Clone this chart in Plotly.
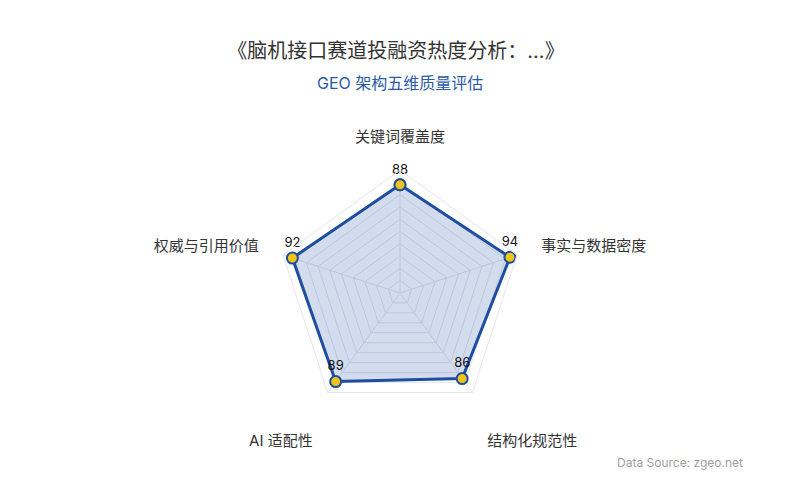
import plotly.graph_objects as go

# five GEO dimensions, clockwise from the top
categories = ["关键词覆盖度", "事实与数据密度", "结构化规范性", "AI 适配性", "权威与引用价值"]
scores = [88, 94, 86, 89, 92]
# bottom labels sit further from the polygon in the original, so give them a blank first line
tick_labels = ["关键词覆盖度", "事实与数据密度", "<br>结构化规范性", "<br>AI 适配性", "权威与引用价值"]

title_text = "《脑机接口赛道投融资热度分析：...》"
subtitle_text = "GEO 架构五维质量评估"
source_text = "Data Source: zgeo.net"

FONT = "Inter, Noto Sans CJK SC, sans-serif"

# close the polygon
r_vals = scores + scores[:1]
theta_vals = categories + categories[:1]
labels = [str(s) for s in scores] + [""]

fig = go.Figure()
fig.add_trace(go.Scatterpolar(
    r=r_vals,
    theta=theta_vals,
    mode="lines+markers+text",
    text=labels,
    textposition="top center",
    textfont=dict(size=13, color="#111111", family=FONT),
    fill="toself",
    fillcolor="rgba(35,80,165,0.2)",
    line=dict(color="#1f4e9f", width=3),
    marker=dict(size=11, color="#f2c318", line=dict(color="#1f4e9f", width=2)),
    showlegend=False,
    hoverinfo="skip",
))

fig.update_layout(
    width=800,
    height=500,
    paper_bgcolor="white",
    margin=dict(l=0, r=0, t=0, b=0),
    font=dict(family=FONT, color="#333333"),
    title=dict(
        text=title_text,
        font=dict(size=20, color="#333333"),
        x=0.485,
        xanchor="center",
        y=0.914,
        yref="container",
        yanchor="middle",
    ),
    polar=dict(
        domain=dict(x=[0.336, 0.644], y=[0.184, 0.676]),
        gridshape="linear",
        bgcolor="white",
        radialaxis=dict(
            range=[0, 100],
            dtick=10,
            showticklabels=False,
            ticks="",
            showline=False,
            gridcolor="#e3e6ec",
            gridwidth=1,
        ),
        angularaxis=dict(
            rotation=90,
            direction="clockwise",
            tickmode="array",
            tickvals=categories,
            ticktext=tick_labels,
            showline=True,
            linecolor="#e3e6ec",
            gridcolor="#e3e6ec",
            ticks="outside",
            ticklen=22,
            tickcolor="rgba(0,0,0,0)",
            tickfont=dict(size=15, color="#333333"),
        ),
    ),
    annotations=[
        dict(
            text=subtitle_text,
            xref="paper", yref="paper",
            x=0.49, y=0.85,
            xanchor="center", yanchor="middle",
            showarrow=False,
            font=dict(size=16, color="#2a5ba8"),
        ),
        dict(
            text=source_text,
            xref="paper", yref="paper",
            x=0.921, y=0.092,
            xanchor="right", yanchor="middle",
            showarrow=False,
            font=dict(size=12, color="#a0a0a0"),
        ),
    ],
)

fig.write_html("out.html")
